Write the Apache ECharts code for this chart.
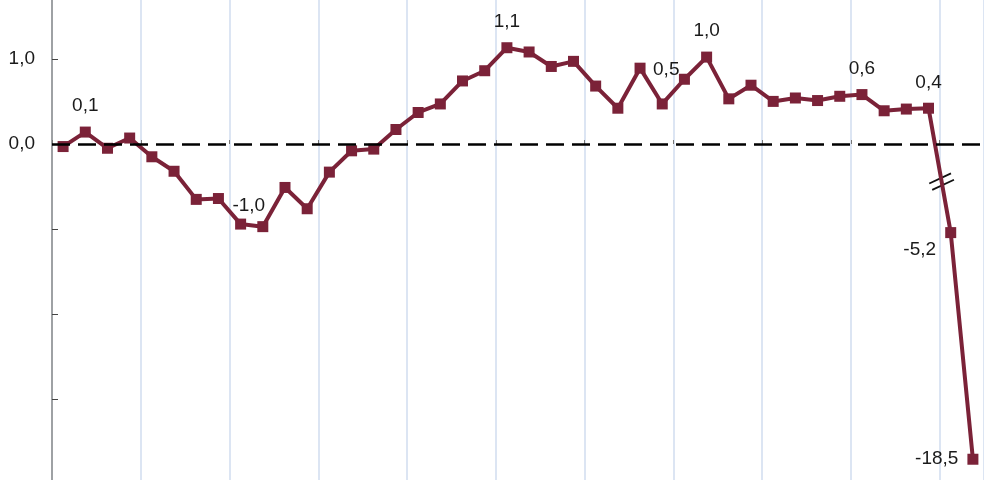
<!DOCTYPE html>
<html><head><meta charset="utf-8">
<script src="https://cdn.jsdelivr.net/npm/echarts@6/dist/echarts.min.js"></script>
<style>html,body{margin:0;padding:0;background:#fff}#c{width:984px;height:480px}</style>
</head><body><div id="c"></div>
<script>
// Quarterly growth (%), 2010 T1 .. 2020 T2
const years = [2010, 2011, 2012, 2013, 2014, 2015, 2016, 2017, 2018, 2019, 2020];
const quarterNames = ['T1', 'T2', 'T3', 'T4'];
const values = [
  -0.03, 0.14, -0.05, 0.07,
  -0.15, -0.32, -0.65, -0.64,
  -0.94, -0.97, -0.51, -0.76,
  -0.33, -0.08, -0.06, 0.17,
  0.37, 0.47, 0.74, 0.86,
  1.13, 1.08, 0.91, 0.97,
  0.68, 0.42, 0.89, 0.47,
  0.76, 1.02, 0.53, 0.69,
  0.50, 0.54, 0.51, 0.56,
  0.58, 0.39, 0.41, 0.42,
  -5.2, -18.5
];
const labelIdx = [1, 9, 20, 27, 29, 36, 39, 40, 41];
const yTickLabels = [0, 1];
// broken axis: values from this index on are drawn compressed by this factor
const brokenFrom = 40;
const brokenScale = 5;

const categories = [];
years.forEach(y => quarterNames.forEach(q => categories.push(y + ' ' + q)));
categories.length = values.length;

const fmt = v => v.toFixed(1).replace('.', ',');
const shown = values.map((v, i) => i >= brokenFrom ? v / brokenScale : v);

const labelStyle = {
  1: {position: 'top', distance: 11},
  9: {position: 'top', distance: 6, offset: [-14, 0]},
  20: {position: 'top', distance: 11},
  27: {position: 'top', distance: 19, offset: [4, 0]},
  29: {position: 'top', distance: 11},
  36: {position: 'top', distance: 11},
  39: {position: 'top', distance: 10},
  40: {position: 'bottom', distance: 2, offset: [-31, 0]},
  41: {position: 'left', distance: 9}
};

const COLOR = '#7b2238';
const FONT = '"Liberation Sans", Arial, sans-serif';
const FS = 19;

const data = shown.map((v, i) => {
  const d = {value: v};
  if (labelIdx.includes(i)) {
    d.label = Object.assign({
      show: true,
      formatter: () => fmt(values[i]),
      fontSize: FS, fontFamily: FONT, color: '#1a1a1a'
    }, labelStyle[i] || {position: 'top'});
  }
  return d;
});

const chart = echarts.init(document.getElementById('c'), null, {renderer: 'canvas'});
const option = {
  animation: false,
  backgroundColor: '#ffffff',
  grid: {left: 52, right: 0, top: -26.4, bottom: -4.8, containLabel: false, outerBoundsMode: 'none'},
  xAxis: {
    type: 'category',
    data: categories,
    boundaryGap: true,
    offset: -5,
    axisLine: {show: false},
    axisTick: {show: true, interval: 3, inside: true, length: 4, lineStyle: {color: '#777', width: 1}},
    axisLabel: {show: false},
    splitLine: {show: true, interval: 3, lineStyle: {color: '#dce5f3', width: 2}}
  },
  yAxis: {
    type: 'value',
    min: -4, max: 2, interval: 1,
    axisLine: {show: true, lineStyle: {color: '#8a8a8a', width: 1.5}},
    axisTick: {show: true, inside: true, length: 6, lineStyle: {color: '#444', width: 1}},
    splitLine: {show: false},
    axisLabel: {
      margin: 17, fontSize: FS, fontFamily: FONT, color: '#1a1a1a',
      formatter: v => yTickLabels.includes(v) ? fmt(v) : ''
    }
  },
  series: [
    {
      type: 'line', z: 1, data: [], silent: true,
      markLine: {
        silent: true, symbol: 'none', label: {show: false},
        lineStyle: {color: '#000', width: 2.5, type: [18, 8]},
        data: [{yAxis: 0}]
      }
    },
    {
      type: 'line', z: 3,
      data: data,
      symbol: 'rect', symbolSize: 11,
      lineStyle: {color: COLOR, width: 4},
      itemStyle: {color: COLOR},
      label: {show: false}
    }
  ]
};
chart.setOption(option);

// break marker on the segment that enters the compressed part
const a = chart.convertToPixel({seriesIndex: 1}, [brokenFrom - 1, shown[brokenFrom - 1]]);
const b = chart.convertToPixel({seriesIndex: 1}, [brokenFrom, shown[brokenFrom]]);
const t = 0.59;
const mx = a[0] + (b[0] - a[0]) * t, my = a[1] + (b[1] - a[1]) * t;
chart.setOption({
  graphic: [{
    type: 'group', x: mx, y: my, rotation: 25 * Math.PI / 180, z: 10,
    children: [
      {type: 'rect', shape: {x: -12, y: -3.5, width: 24, height: 7}, style: {fill: '#fff'}},
      {type: 'line', shape: {x1: -12, y1: -3.5, x2: 12, y2: -3.5}, style: {stroke: '#111', lineWidth: 1.8}},
      {type: 'line', shape: {x1: -12, y1: 3.5, x2: 12, y2: 3.5}, style: {stroke: '#111', lineWidth: 1.8}}
    ]
  }]
});
</script>
</body></html>
